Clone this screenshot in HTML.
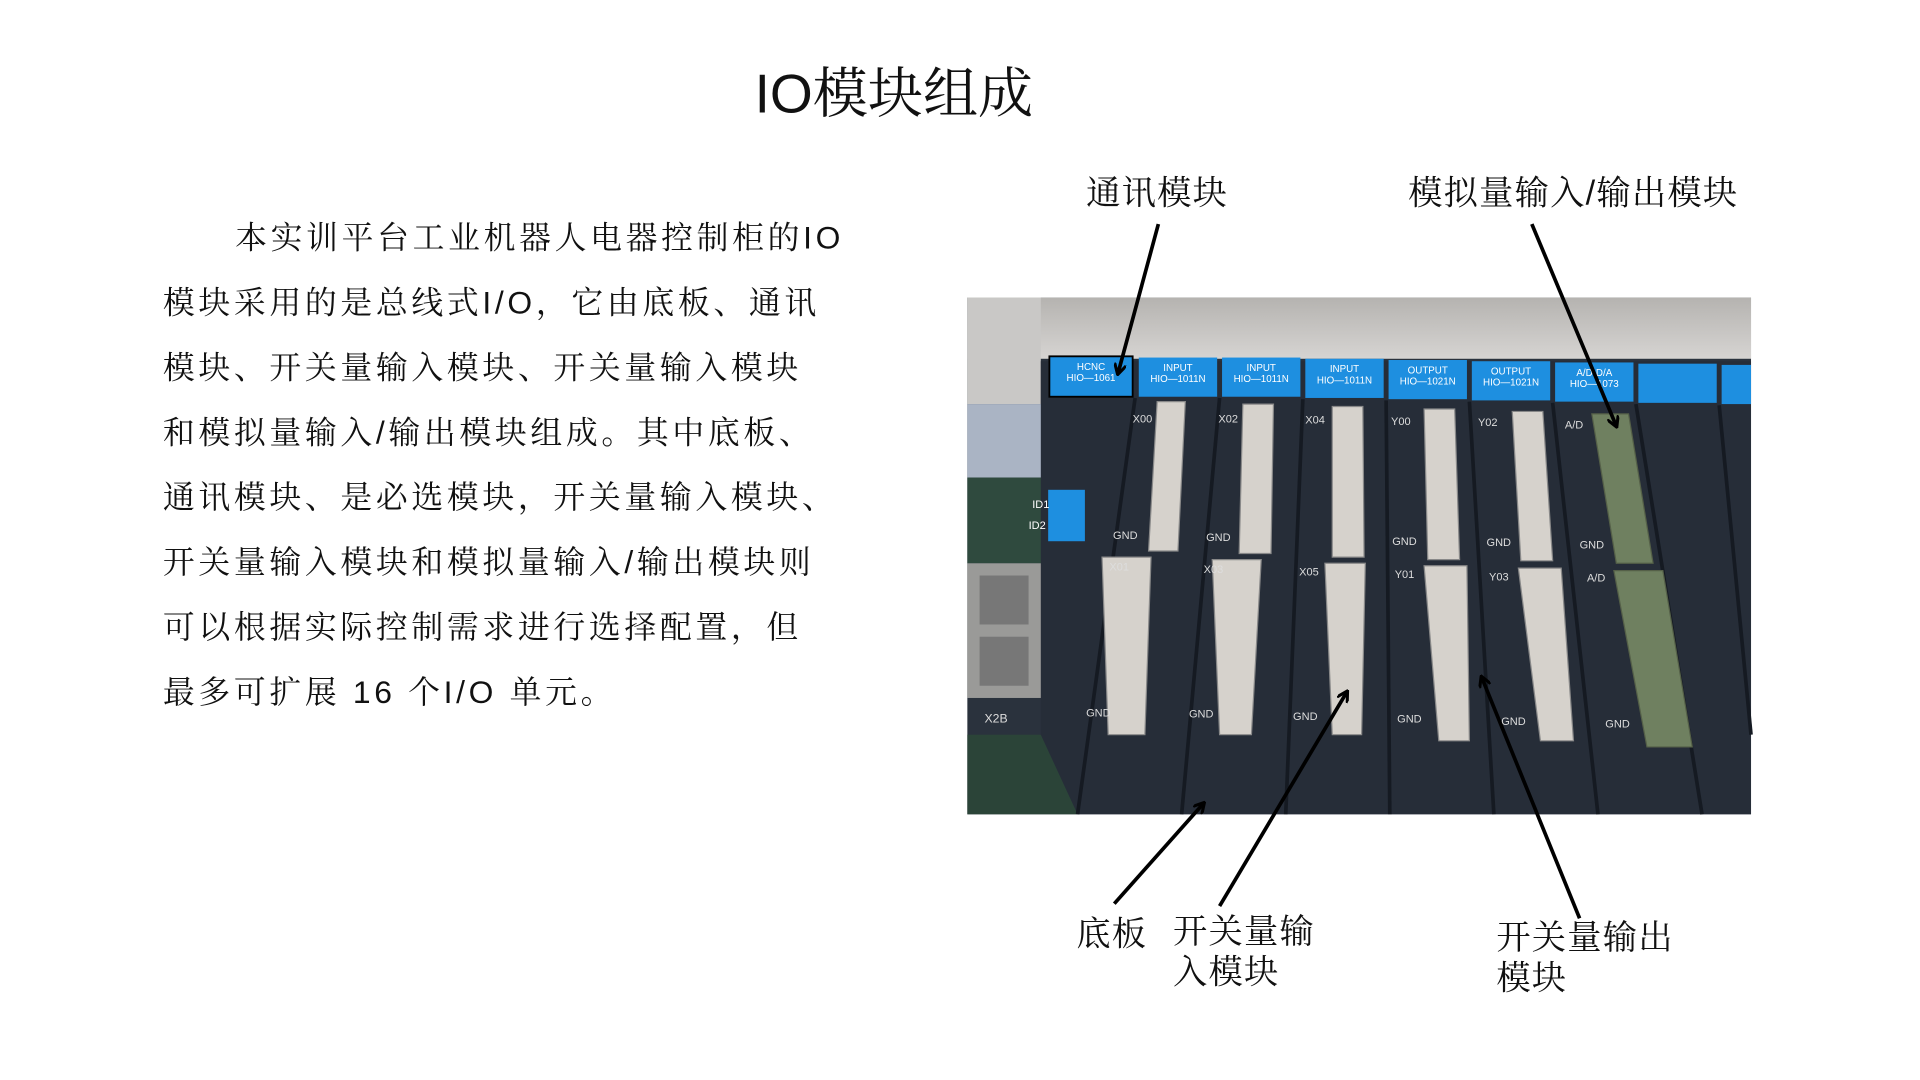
<!DOCTYPE html>
<html><head><meta charset="utf-8"><style>
html,body{margin:0;padding:0;background:#fff;}
svg{display:block;}
text{font-family:"Liberation Sans","Noto Serif CJK SC",serif;fill:#111;}
text.w{fill:#fff;font-family:"Liberation Sans",sans-serif;}
text.g{fill:#ddd;font-family:"Liberation Sans",sans-serif;}
</style></head><body>
<svg width="1920" height="1080" viewBox="0 0 1568 882" preserveAspectRatio="none" xmlns="http://www.w3.org/2000/svg">
<defs>
<marker id="ah" markerWidth="10" markerHeight="10" refX="8" refY="5" orient="auto" markerUnits="userSpaceOnUse"><path d="M0,0 L9,5 L0,10" fill="none" stroke="#000" stroke-width="2.5"/></marker>
<linearGradient id="topg" x1="0" y1="0" x2="0" y2="1"><stop offset="0" stop-color="#b5b3b0"/><stop offset="1" stop-color="#d6d4d2"/></linearGradient>
</defs>
<rect width="1568" height="882" fill="#fff"/>
<text x="730" y="92" font-size="45" text-anchor="middle">IO模块组成</text>

<g font-size="26" letter-spacing="3">
<text x="192" y="203">本实训平台工业机器人电器控制柜的IO</text>
<text x="133" y="256">模块采用的是总线式I/O，它由底板、通讯</text>
<text x="133" y="309">模块、开关量输入模块、开关量输入模块</text>
<text x="133" y="362">和模拟量输入/输出模块组成。其中底板、</text>
<text x="133" y="415">通讯模块、是必选模块，开关量输入模块、</text>
<text x="133" y="468">开关量输入模块和模拟量输入/输出模块则</text>
<text x="133" y="521">可以根据实际控制需求进行选择配置，但</text>
<text x="133" y="574">最多可扩展 16 个I/O 单元。</text>
</g>

<!-- photo -->
<g>
<rect x="790" y="243" width="640" height="422" fill="#2a323d"/>
<rect x="790" y="243" width="640" height="50" fill="url(#topg)"/>
<polygon points="790,243 850,243 850,330 790,330" fill="#c9c8c6"/>
<rect x="790" y="330" width="62" height="60" fill="#aab4c4"/>
<rect x="790" y="390" width="62" height="70" fill="#2f4a3e"/>
<rect x="790" y="460" width="70" height="110" fill="#9a9a98"/>
<rect x="800" y="470" width="40" height="40" fill="#777"/>
<rect x="800" y="520" width="40" height="40" fill="#777"/>
<rect x="790" y="600" width="90" height="65" fill="#2b4438"/>
<polygon points="850,295 1430,295 1430,665 880,665 850,600" fill="#262d38"/>
<g fill="#1e8fe0">
<rect x="857" y="291" width="68" height="33" stroke="#000" stroke-width="1.5"/>
<rect x="930" y="292" width="64" height="32"/>
<rect x="998" y="292" width="64" height="32"/>
<rect x="1066" y="293" width="64" height="32"/>
<rect x="1134" y="294" width="64" height="32"/>
<rect x="1202" y="295" width="64" height="32"/>
<rect x="1270" y="296" width="64" height="32"/>
<rect x="1338" y="297" width="64" height="32"/>
<rect x="1406" y="298" width="24" height="32"/>
</g>
<g font-size="8" text-anchor="middle">
<text class="w" x="891" y="302">HCNC</text><text class="w" x="891" y="311">HIO—1061</text>
<text class="w" x="962" y="303">INPUT</text><text class="w" x="962" y="312">HIO—1011N</text>
<text class="w" x="1030" y="303">INPUT</text><text class="w" x="1030" y="312">HIO—1011N</text>
<text class="w" x="1098" y="304">INPUT</text><text class="w" x="1098" y="313">HIO—1011N</text>
<text class="w" x="1166" y="305">OUTPUT</text><text class="w" x="1166" y="314">HIO—1021N</text>
<text class="w" x="1234" y="306">OUTPUT</text><text class="w" x="1234" y="315">HIO—1021N</text>
<text class="w" x="1302" y="307">A/D-D/A</text><text class="w" x="1302" y="316">HIO—1073</text>
</g>
<g stroke="#151a22" stroke-width="3">
<line x1="927" y1="325" x2="880" y2="665"/><line x1="996" y1="325" x2="965" y2="665"/>
<line x1="1064" y1="326" x2="1050" y2="665"/><line x1="1132" y1="327" x2="1135" y2="665"/>
<line x1="1200" y1="328" x2="1220" y2="665"/><line x1="1268" y1="329" x2="1305" y2="665"/>
<line x1="1336" y1="330" x2="1390" y2="665"/><line x1="1404" y1="331" x2="1430" y2="600"/>
</g>
<g fill="#d6d2cc" stroke="#888" stroke-width="1">
<polygon points="945,328 968,328 962,450 938,450"/>
<polygon points="1015,330 1040,330 1038,452 1012,452"/>
<polygon points="1088,332 1113,332 1114,455 1088,455"/>
<polygon points="1163,334 1188,334 1192,457 1166,457"/>
<polygon points="1235,336 1260,336 1268,458 1242,458"/>
<polygon points="900,455 940,455 935,600 905,600"/>
<polygon points="990,457 1030,457 1022,600 996,600"/>
<polygon points="1082,460 1115,460 1112,600 1088,600"/>
<polygon points="1163,462 1198,462 1200,605 1175,605"/>
<polygon points="1240,464 1275,464 1285,605 1258,605"/>
</g>
<g fill="#6f8060" stroke="#556048" stroke-width="1">
<polygon points="1300,338 1330,338 1350,460 1320,460"/>
<polygon points="1318,466 1358,466 1382,610 1345,610"/>
</g>
<g font-size="9">
<text class="g" x="925" y="345">X00</text><text class="g" x="995" y="345">X02</text><text class="g" x="1066" y="346">X04</text>
<text class="g" x="1136" y="347">Y00</text><text class="g" x="1207" y="348">Y02</text><text class="g" x="1278" y="350">A/D</text>
<text class="g" x="906" y="466">X01</text><text class="g" x="983" y="468">X03</text><text class="g" x="1061" y="470">X05</text>
<text class="g" x="1139" y="472">Y01</text><text class="g" x="1216" y="474">Y03</text><text class="g" x="1296" y="475">A/D</text>
<text class="g" x="909" y="440">GND</text><text class="g" x="985" y="442">GND</text><text class="g" x="1137" y="445">GND</text><text class="g" x="1214" y="446">GND</text><text class="g" x="1290" y="448">GND</text>
<text class="g" x="887" y="585">GND</text><text class="g" x="971" y="586">GND</text><text class="g" x="1056" y="588">GND</text><text class="g" x="1141" y="590">GND</text><text class="g" x="1226" y="592">GND</text><text class="g" x="1311" y="594">GND</text>
</g>
<rect x="856" y="400" width="30" height="42" fill="#1e8fe0"/>
<text class="w" x="843" y="415" font-size="9">ID1</text>
<text class="w" x="840" y="432" font-size="9">ID2</text>
<text class="g" x="804" y="590" font-size="10">X2B</text>
</g>

<g font-size="28" letter-spacing="1">
<text x="887" y="167">通讯模块</text>
<text x="1150" y="167">模拟量输入/输出模块</text>
<text x="879" y="772">底板</text>
<text x="958" y="770">开关量输</text>
<text x="958" y="803">入模块</text>
<text x="1222" y="775">开关量输出</text>
<text x="1222" y="808">模块</text>
</g>
<g stroke="#000" stroke-width="3" fill="none" marker-end="url(#ah)">
<line x1="946" y1="183" x2="913" y2="305"/>
<line x1="1251" y1="183" x2="1320" y2="348"/>
<line x1="910" y1="738" x2="983" y2="656"/>
<line x1="996" y1="740" x2="1100" y2="565"/>
<line x1="1290" y1="750" x2="1210" y2="553"/>
</g>
</svg>
</body></html>
